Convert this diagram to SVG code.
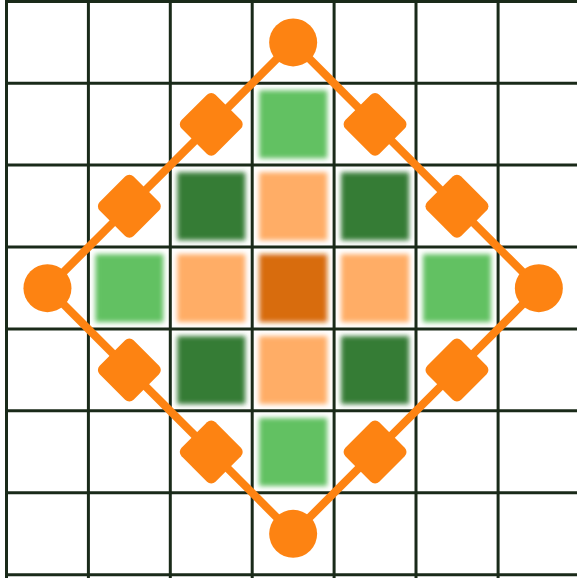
<svg xmlns="http://www.w3.org/2000/svg" xmlns:xlink="http://www.w3.org/1999/xlink" width="577" height="578" viewBox="0 0 577 578">
<style>
.grid{stroke:#1a2a19;stroke-width:3;fill:none}
.lg{fill:#62c162}
.dg{fill:#367b36}
.lo{fill:#ffad66}
.do{fill:#d86c10}
.cell{filter:url(#blur)}
.edge{stroke:#fd8312;stroke-width:8;fill:none}
.node{fill:#fd8312}
</style>
<defs>
<filter id="blur" x="-20%" y="-20%" width="140%" height="140%"><feGaussianBlur stdDeviation="2.6"/></filter>
<rect id="dia" x="-24" y="-24" width="48" height="48" rx="6" ry="6"/>
</defs>
<rect width="577" height="578" fill="#ffffff"/>
<g id="grid" class="grid">
<line x1="6.5" y1="0" x2="6.5" y2="578"/>
<line x1="88.4" y1="0" x2="88.4" y2="578"/>
<line x1="170.3" y1="0" x2="170.3" y2="578"/>
<line x1="252.2" y1="0" x2="252.2" y2="578"/>
<line x1="334.1" y1="0" x2="334.1" y2="578"/>
<line x1="416" y1="0" x2="416" y2="578"/>
<line x1="498.1" y1="0" x2="498.1" y2="578"/>
<line x1="5" y1="1.4" x2="577" y2="1.4"/>
<line x1="5" y1="83.3" x2="577" y2="83.3"/>
<line x1="5" y1="165.1" x2="577" y2="165.1"/>
<line x1="5" y1="247" x2="577" y2="247"/>
<line x1="5" y1="328.9" x2="577" y2="328.9"/>
<line x1="5" y1="410.8" x2="577" y2="410.8"/>
<line x1="5" y1="492.7" x2="577" y2="492.7"/>
<line x1="5" y1="574.7" x2="577" y2="574.7"/>
</g>
<g id="cells">
<rect class="cell lg" x="259.2" y="90.4" width="68" height="68"/>
<rect class="cell lg" x="95.4" y="254.2" width="68" height="68"/>
<rect class="cell lg" x="423" y="254.2" width="68" height="68"/>
<rect class="cell lg" x="259.2" y="418" width="68" height="68"/>
<rect class="cell dg" x="177.3" y="172.3" width="68" height="68"/>
<rect class="cell dg" x="341.1" y="172.3" width="68" height="68"/>
<rect class="cell dg" x="177.3" y="336.1" width="68" height="68"/>
<rect class="cell dg" x="341.1" y="336.1" width="68" height="68"/>
<rect class="cell lo" x="259.2" y="172.3" width="68" height="68"/>
<rect class="cell lo" x="177.3" y="254.2" width="68" height="68"/>
<rect class="cell lo" x="341.1" y="254.2" width="68" height="68"/>
<rect class="cell lo" x="259.2" y="336.1" width="68" height="68"/>
<rect class="cell do" x="259.2" y="254.2" width="68" height="68"/>
</g>
<g id="connectors" class="edge">
<line x1="293.15" y1="42.45" x2="211.25" y2="124.35"/>
<line x1="211.25" y1="124.35" x2="129.35" y2="206.25"/>
<line x1="129.35" y1="206.25" x2="47.45" y2="288.15"/>
<line x1="293.15" y1="42.45" x2="375.05" y2="124.35"/>
<line x1="375.05" y1="124.35" x2="456.95" y2="206.25"/>
<line x1="456.95" y1="206.25" x2="538.85" y2="288.15"/>
<line x1="47.45" y1="288.15" x2="129.35" y2="370.05"/>
<line x1="129.35" y1="370.05" x2="211.25" y2="451.95"/>
<line x1="211.25" y1="451.95" x2="293.15" y2="533.85"/>
<line x1="538.85" y1="288.15" x2="456.95" y2="370.05"/>
<line x1="456.95" y1="370.05" x2="375.05" y2="451.95"/>
<line x1="375.05" y1="451.95" x2="293.15" y2="533.85"/>
</g>
<g id="n-top" class="node"><circle cx="293.15" cy="42.45" r="24"/></g>
<g id="n-left" class="node"><circle cx="47.45" cy="288.15" r="24"/></g>
<g id="n-right" class="node"><circle cx="538.85" cy="288.15" r="24"/></g>
<g id="n-bottom" class="node"><circle cx="293.15" cy="533.85" r="24"/></g>
<g id="d-tl1" class="node"><use xlink:href="#dia" transform="translate(211.25 124.35) rotate(45)"/></g>
<g id="d-tl2" class="node"><use xlink:href="#dia" transform="translate(129.35 206.25) rotate(45)"/></g>
<g id="d-tr1" class="node"><use xlink:href="#dia" transform="translate(375.05 124.35) rotate(45)"/></g>
<g id="d-tr2" class="node"><use xlink:href="#dia" transform="translate(456.95 206.25) rotate(45)"/></g>
<g id="d-bl1" class="node"><use xlink:href="#dia" transform="translate(129.35 370.05) rotate(45)"/></g>
<g id="d-bl2" class="node"><use xlink:href="#dia" transform="translate(211.25 451.95) rotate(45)"/></g>
<g id="d-br1" class="node"><use xlink:href="#dia" transform="translate(456.95 370.05) rotate(45)"/></g>
<g id="d-br2" class="node"><use xlink:href="#dia" transform="translate(375.05 451.95) rotate(45)"/></g>
</svg>
